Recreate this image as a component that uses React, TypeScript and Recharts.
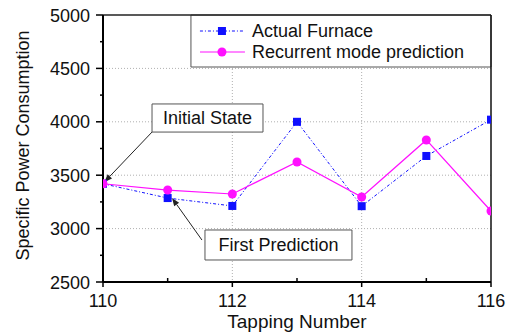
import React from 'react';
import { LineChart, Line, XAxis, YAxis, CartesianGrid, ReferenceArea, ReferenceLine } from 'recharts';

const tapping = [110, 111, 112, 113, 114, 115, 116];
const actualFurnace = [3420, 3286, 3212, 4000, 3210, 3680, 4020];
const recurrentPrediction = [3420, 3361, 3324, 3624, 3296, 3830, 3165];
const xTicks = [110, 111, 112, 113, 114, 115, 116];
const xLabelTicks = [110, 112, 114, 116];
const yTicks = [2500, 2750, 3000, 3250, 3500, 3750, 4000, 4250, 4500, 4750, 5000];
const yLabelTicks = [2500, 3000, 3500, 4000, 4500, 5000];
const seriesNames = ['Actual Furnace', 'Recurrent mode prediction'];
const annotationTexts = ['Initial State', 'First Prediction'];

const data = tapping.map((t, i) => ({ t, actual: actualFurnace[i], pred: recurrentPrediction[i] }));

const FONT = 'Liberation Sans, Arial, Helvetica, sans-serif';
const BLUE = '#1010ff';
const MAGENTA = '#ff10ff';

const XTick = (props: any) => {
  const { x, y, payload } = props;
  const y0 = y - 5 - 2;
  const major = xLabelTicks.includes(payload.value);
  return (
    <g>
      {major ? (
        <line x1={x} x2={x} y1={y0} y2={y0 + 5} stroke="#000" strokeWidth={1.5} />
      ) : (
        <line x1={x} x2={x} y1={y0} y2={y0 - 4} stroke="#000" strokeWidth={1.5} />
      )}
      {major && (
        <text x={x} y={y0 + 25} textAnchor="middle" fontSize={18} fontFamily={FONT} fill="#111">
          {payload.value}
        </text>
      )}
    </g>
  );
};

const YTick = (props: any) => {
  const { x, y, payload } = props;
  const x0 = x + 7 + 6;
  const major = yLabelTicks.includes(payload.value);
  return (
    <g>
      <line x1={x0} x2={x0 - (major ? 7 : 3)} y1={y} y2={y} stroke="#000" strokeWidth={1.5} />
      {major && (
        <text x={x0 - 13} y={y + 6.5} textAnchor="end" fontSize={18} fontFamily={FONT} fill="#111">
          {payload.value}
        </text>
      )}
    </g>
  );
};

const YTitle = (props: any) => {
  const vb = props.viewBox || { x: 0, y: 15, width: 103, height: 267 };
  const cx = vb.x + 23;
  const cy = vb.y + vb.height / 2 - 3;
  return (
    <text
      x={cx}
      y={cy}
      transform={`rotate(-90, ${cx}, ${cy})`}
      textAnchor="middle"
      dominantBaseline="central"
      fontSize={18}
      fontFamily={FONT}
      fill="#111"
    >
      Specific Power Consumption
    </text>
  );
};

const SquareDot = (props: any) => {
  const { cx, cy, index } = props;
  if (cx == null || cy == null) return <g key={index} />;
  return <rect key={index} x={cx - 4} y={cy - 4} width={8} height={8} fill={BLUE} />;
};

const CircleDot = (props: any) => {
  const { cx, cy, index } = props;
  if (cx == null || cy == null) return <g key={index} />;
  return <circle key={index} cx={cx} cy={cy} r={4.5} fill={MAGENTA} />;
};

const LegendContent = (props: any) => {
  const { x, y } = props.viewBox;
  const r1 = y + 16;
  const r2 = y + 37;
  return (
    <g>
      <line x1={x + 9} x2={x + 54} y1={r1} y2={r1} stroke={BLUE} strokeWidth={1} strokeDasharray="3 2 1 2" />
      <rect x={x + 27} y={r1 - 4} width={8} height={8} fill={BLUE} />
      <text x={x + 61} y={r1} dominantBaseline="central" fontSize={18} fontFamily={FONT} fill="#111">
        {seriesNames[0]}
      </text>
      <line x1={x + 9} x2={x + 54} y1={r2} y2={r2} stroke={MAGENTA} strokeWidth={1.2} />
      <circle cx={x + 31} cy={r2} r={4.5} fill={MAGENTA} />
      <text x={x + 61} y={r2} dominantBaseline="central" fontSize={18} fontFamily={FONT} fill="#111">
        {seriesNames[1]}
      </text>
    </g>
  );
};

const BoxLabel = (text: string) => (props: any) => {
  const { x, y, width, height } = props.viewBox;
  return (
    <text
      x={x + width / 2}
      y={y + height / 2}
      textAnchor="middle"
      dominantBaseline="central"
      fontSize={18}
      fontFamily={FONT}
      fill="#111"
    >
      {text}
    </text>
  );
};

const Arrow = (props: any) => {
  const { x1, y1, x2, y2 } = props;
  const dx = x2 - x1;
  const dy = y2 - y1;
  const len = Math.sqrt(dx * dx + dy * dy) || 1;
  const ux = dx / len;
  const uy = dy / len;
  const hl = 8;
  const hw = 3;
  const bx = x2 - ux * hl;
  const by = y2 - uy * hl;
  const p = `${x2},${y2} ${bx - uy * hw},${by + ux * hw} ${bx + uy * hw},${by - ux * hw}`;
  return (
    <g>
      <line x1={x1} y1={y1} x2={bx} y2={by} stroke="#222" strokeWidth={1} />
      <polygon points={p} fill="#222" />
    </g>
  );
};

export default function App() {
  return (
    <div style={{ position: 'absolute', left: 0, top: 0, background: '#fff' }}>
      <LineChart width={516} height={336} data={data} margin={{ top: 15, right: 25, bottom: 0, left: 0 }}>
        <CartesianGrid
          horizontalValues={[3000, 3500, 4000, 4500]}
          verticalValues={[112, 114]}
          stroke="#b0b0b0"
          strokeDasharray="1 2"
        />
        <XAxis
          dataKey="t"
          type="number"
          domain={[110, 116]}
          allowDataOverflow
          ticks={xTicks}
          interval={0}
          height={54}
          tickSize={5}
          tickMargin={2}
          tickLine={false}
          tick={<XTick />}
          axisLine={{ stroke: '#000', strokeWidth: 2 }}
          label={{ value: 'Tapping Number', position: 'insideBottom', offset: 8, fontSize: 19, fill: '#111', fontFamily: FONT }}
        />
        <YAxis
          type="number"
          domain={[2500, 5000]}
          ticks={yTicks}
          interval={0}
          width={103}
          tickSize={7}
          tickMargin={6}
          tickLine={false}
          tick={<YTick />}
          axisLine={{ stroke: '#000', strokeWidth: 2 }}
          label={<YTitle />}
        />
        <ReferenceLine y={5000} stroke="#222" strokeWidth={1.5} />
        <ReferenceLine x={116} stroke="#111" strokeWidth={1.5} />
        <ReferenceArea
          x1={111.36}
          x2={116}
          y1={4513}
          y2={5000}
          fill="#fff"
          fillOpacity={1}
          stroke="#555"
          strokeWidth={1}
          label={LegendContent}
        />
        <ReferenceArea
          x1={110.758}
          x2={112.474}
          y1={3904}
          y2={4167}
          fill="#fff"
          fillOpacity={1}
          stroke="#555"
          strokeWidth={1}
          label={BoxLabel(annotationTexts[0])}
        />
        <ReferenceArea
          x1={111.577}
          x2={113.85}
          y1={2706}
          y2={2987}
          fill="#fff"
          fillOpacity={1}
          stroke="#555"
          strokeWidth={1}
          label={BoxLabel(annotationTexts[1])}
        />
        <ReferenceLine
          segment={[
            { x: 110.758, y: 3904 },
            { x: 110.02, y: 3435 },
          ]}
          shape={Arrow}
        />
        <ReferenceLine
          segment={[
            { x: 111.53, y: 2893 },
            { x: 111.067, y: 3287 },
          ]}
          shape={Arrow}
        />
        <Line
          dataKey="actual"
          stroke={BLUE}
          strokeWidth={1}
          strokeDasharray="3 2 1 2"
          dot={<SquareDot />}
          isAnimationActive={false}
        />
        <Line
          dataKey="pred"
          stroke={MAGENTA}
          strokeWidth={1.2}
          dot={<CircleDot />}
          isAnimationActive={false}
        />
      </LineChart>
    </div>
  );
}
